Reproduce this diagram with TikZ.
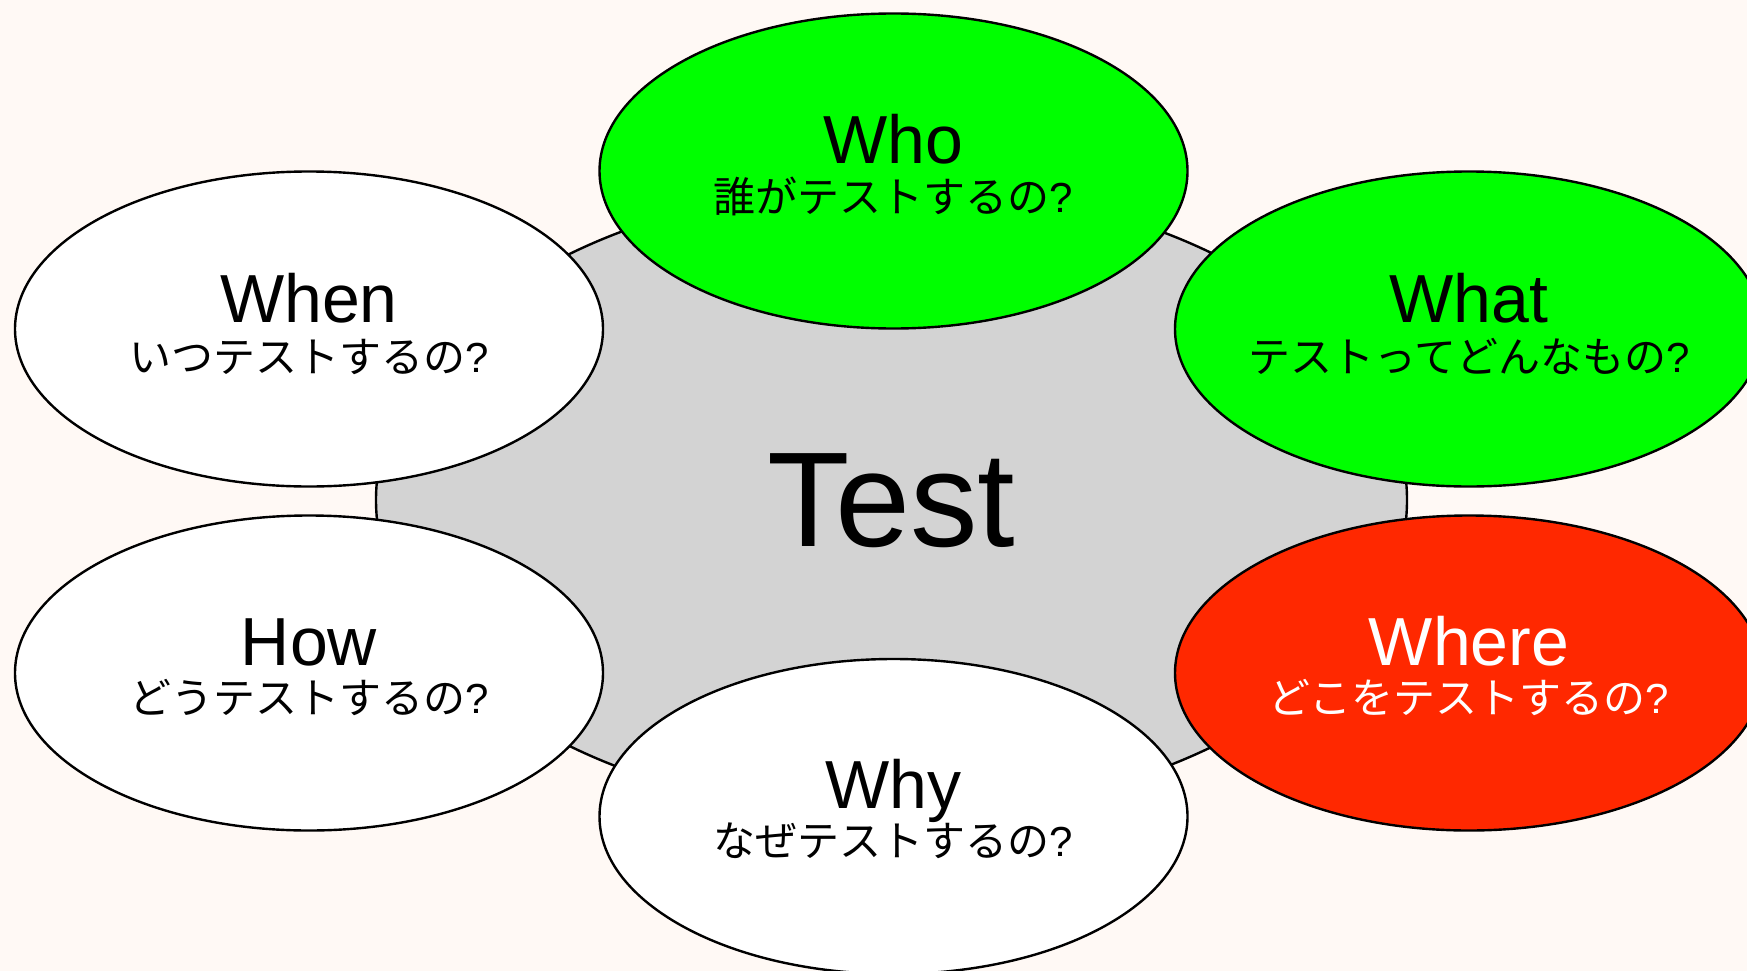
\documentclass[tikz,border=0pt]{standalone}
\usepackage{fontspec}
\setmainfont{Liberation Sans}
\newfontfamily\cjk{Noto Sans CJK JP}
\usetikzlibrary{shapes.geometric}
\definecolor{bgcol}{HTML}{FFF9F5}
\definecolor{centergray}{HTML}{D3D3D3}
\definecolor{qgreen}{HTML}{00FF00}
\definecolor{qred}{HTML}{FF2800}
\newcommand{\qm}{{\rmfamily ?}}
\begin{document}
\begin{tikzpicture}[x=1pt,y=-1pt,
  qbox/.style={ellipse, draw=black, line width=2.4pt, minimum width=588pt, minimum height=315pt, inner sep=0pt},
  hub/.style={ellipse, draw=black, line width=2.4pt, fill=centergray, minimum width=1031pt, minimum height=630pt, inner sep=0pt},
  qtitle/.style={anchor=base, font=\fontsize{68}{68}\selectfont, inner sep=0pt},
  qsub/.style={anchor=base, font=\cjk\fontsize{42}{42}\selectfont, inner sep=0pt},
  hubtext/.style={anchor=base, font=\fontsize{135}{135}\selectfont, inner sep=0pt}]
\fill[bgcol] (0,0) rectangle (1747,971);
\useasboundingbox (0,0) rectangle (1747,971);
\clip (0,0) rectangle (1747,971);
\node[hub] (test) at (891.5,500) {};
\node[qbox, fill=qgreen] (who) at (893.5,171) {};
\node[qbox, fill=white] (when) at (309,329) {};
\node[qbox, fill=qgreen] (what) at (1469,329) {};
\node[qbox, fill=white] (how) at (309,673) {};
\node[qbox, fill=qred] (where) at (1469,673) {};
\node[qbox, fill=white] (why) at (893.5,816.5) {};
\node[hubtext] (testT) at ([yshift=-46pt]test.center) {Test};
\node[qtitle] (whoT) at ([yshift=8pt]who.center) {Who};
\node[qsub] (whoS) at ([yshift=-41pt]who.center) {誰がテストするの\qm};
\node[qtitle] (whenT) at ([yshift=7pt]when.center) {When};
\node[qsub] (whenS) at ([yshift=-43pt]when.center) {いつテストするの\qm};
\node[qtitle] (whatT) at ([yshift=7pt]what.center) {What};
\node[qsub] (whatS) at ([yshift=-43pt]what.center) {テストってどんなもの\qm};
\node[qtitle] (howT) at ([yshift=8pt]how.center) {How};
\node[qsub] (howS) at ([yshift=-40pt]how.center) {どうテストするの\qm};
\node[qtitle, text=white] (whereT) at ([yshift=8pt]where.center) {Where};
\node[qsub, text=white] (whereS) at ([yshift=-40pt]where.center) {どこをテストするの\qm};
\node[qtitle] (whyT) at ([yshift=8pt]why.center) {Why};
\node[qsub] (whyS) at ([yshift=-40pt]why.center) {なぜテストするの\qm};
\end{tikzpicture}
\end{document}
